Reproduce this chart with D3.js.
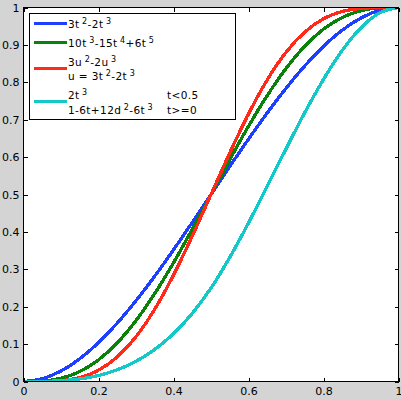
<!DOCTYPE html>
<html>
<head>
<meta charset="utf-8">
<script src="https://cdn.jsdelivr.net/npm/d3@7/dist/d3.min.js"></script>
<style>
  html, body { margin: 0; padding: 0; background: #d4d4d4; }
  svg { display: block; }
  .tick text { font-family: "DejaVu Sans", sans-serif; font-size: 11px; fill: #000; }
  .legend text { font-family: "DejaVu Sans", sans-serif; font-size: 10.5px; letter-spacing: 0.4px; fill: #000; }
</style>
</head>
<body>
<svg id="chart" width="401" height="399"></svg>
<script>
// values
var tVals = [0, 0.05, 0.1, 0.15, 0.2, 0.25, 0.3, 0.35, 0.4, 0.45, 0.5,
             0.55, 0.6, 0.65, 0.7, 0.75, 0.8, 0.85, 0.9, 0.95, 1];
var smoothstep = [0, 0.0073, 0.028, 0.0608, 0.104, 0.1563, 0.216, 0.2818, 0.352, 0.4253, 0.5,
                  0.5748, 0.648, 0.7183, 0.784, 0.8438, 0.896, 0.9393, 0.972, 0.9928, 1];
var smootherstep = [0, 0.0012, 0.0086, 0.0266, 0.0579, 0.1035, 0.1631, 0.2352, 0.3174, 0.4069, 0.5,
                    0.5931, 0.6826, 0.7648, 0.8369, 0.8965, 0.9421, 0.9734, 0.9914, 0.9988, 1];
var nested = [0, 0.0002, 0.0023, 0.0106, 0.0302, 0.0656, 0.1198, 0.1934, 0.2845, 0.3887, 0.5,
              0.6113, 0.7155, 0.8066, 0.8802, 0.9344, 0.9698, 0.9894, 0.9977, 0.9998, 1];
var piecewise = [0, 0.0003, 0.002, 0.0068, 0.016, 0.0313, 0.054, 0.0858, 0.128, 0.1823, 0.25,
                 0.3318, 0.424, 0.5223, 0.622, 0.7188, 0.808, 0.8853, 0.946, 0.9858, 1];

var seriesValues = [smoothstep, smootherstep, nested, piecewise];
var seriesColors = ["#1f3fff", "#0a820a", "#ff2a1a", "#14c8c8"];

// legend labels: [text, superscript?]
var legendLines = [
  [[["3t", 0], ["2", 1], ["-2t", 0], ["3", 1]]],
  [[["10t", 0], ["3", 1], ["-15t", 0], ["4", 1], ["+6t", 0], ["5", 1]]],
  [[["3u", 0], ["2", 1], ["-2u", 0], ["3", 1]],
   [["u = 3t", 0], ["2", 1], ["-2t", 0], ["3", 1]]],
  [[["2t", 0], ["3", 1]],
   [["1-6t+12d", 0], ["2", 1], ["-6t", 0], ["3", 1]]]
];
var legendConds = [null, null, null, ["t<0.5", "t>=0"]];

var xTickVals = [0, 0.2, 0.4, 0.6, 0.8, 1];
var xTickLabels = ["0", "0.2", "0.4", "0.6", "0.8", "1"];
var yTickVals = [0, 0.1, 0.2, 0.3, 0.4, 0.5, 0.6, 0.7, 0.8, 0.9, 1];
var yTickLabels = ["0", "0.1", "0.2", "0.3", "0.4", "0.5", "0.6", "0.7", "0.8", "0.9", "1"];

var svg = d3.select("#chart");

var xScale = d3.scaleLinear().domain([0, 1]).range([23.5, 398.5]);
var yScale = d3.scaleLinear().domain([0, 1]).range([381.5, 7.5]);

// plot area
svg.append("rect")
  .attr("x", xScale(0)).attr("y", yScale(1))
  .attr("width", xScale(1) - xScale(0))
  .attr("height", yScale(0) - yScale(1))
  .attr("fill", "#fff");

svg.append("clipPath").attr("id", "plotclip")
  .append("rect")
  .attr("x", xScale(0)).attr("y", yScale(1))
  .attr("width", xScale(1) - xScale(0))
  .attr("height", yScale(0) - yScale(1));

var line = d3.line()
  .x(function(d, i) { return xScale(tVals[i]); })
  .y(function(d) { return yScale(d); })
  .curve(d3.curveMonotoneX);

svg.append("g")
  .attr("clip-path", "url(#plotclip)")
  .selectAll("path")
  .data(seriesValues)
  .enter()
  .append("path")
  .attr("d", line)
  .attr("fill", "none")
  .attr("stroke", function(d, i) { return seriesColors[i]; })
  .attr("stroke-width", 3.3)
  .attr("shape-rendering", "crispEdges");

// axes, ticks pointing inward
var xAxis = d3.axisBottom(xScale).tickValues(xTickVals)
  .tickFormat(function(d, i) { return xTickLabels[i]; })
  .tickSize(-4).tickPadding(6);
var yAxis = d3.axisLeft(yScale).tickValues(yTickVals)
  .tickFormat(function(d, i) { return yTickLabels[i]; })
  .tickSize(-4).tickPadding(4);

svg.append("g").attr("transform", "translate(0," + yScale(0) + ")").call(xAxis);
svg.append("g").attr("transform", "translate(" + xScale(0) + ",0)").call(yAxis);
svg.append("g").attr("transform", "translate(0," + yScale(1) + ")")
  .call(d3.axisTop(xScale).tickValues(xTickVals).tickFormat("").tickSize(-4));
svg.append("g").attr("transform", "translate(" + xScale(1) + ",0)")
  .call(d3.axisRight(yScale).tickValues(yTickVals).tickFormat("").tickSize(-4));

svg.selectAll(".domain").remove();
svg.selectAll(".tick line").attr("stroke", "#000").attr("shape-rendering", "crispEdges");

svg.append("rect")
  .attr("x", xScale(0)).attr("y", yScale(1))
  .attr("width", xScale(1) - xScale(0))
  .attr("height", yScale(0) - yScale(1))
  .attr("fill", "none")
  .attr("stroke", "#000")
  .attr("shape-rendering", "crispEdges");

// legend
var legend = svg.append("g").attr("class", "legend");
legend.append("rect")
  .attr("x", 29.5).attr("y", 13.5)
  .attr("width", 206).attr("height", 106)
  .attr("fill", "#fff").attr("stroke", "#000")
  .attr("shape-rendering", "crispEdges");

var baseline = 28;
legendLines.forEach(function(rows, i) {
  var first = baseline;
  rows.forEach(function(segs, j) {
    if (j > 0) baseline += 14.3;
    var txt = legend.append("text").attr("x", 68).attr("y", baseline);
    segs.forEach(function(s, k) {
      var ts = txt.append("tspan").text(s[0]);
      if (s[1]) {
        ts.attr("font-size", "8px").attr("dy", -4).attr("dx", 2.5);
      } else if (k > 0) {
        ts.attr("dy", 4);
      }
    });
    if (legendConds[i]) {
      legend.append("text").attr("x", 167).attr("y", baseline).text(legendConds[i][j]);
    }
  });
  var mid = (first + baseline) / 2 - 5;
  legend.append("line")
    .attr("x1", 34).attr("x2", 67)
    .attr("y1", mid).attr("y2", mid)
    .attr("stroke", seriesColors[i])
    .attr("stroke-width", 3)
    .attr("shape-rendering", "crispEdges");
  baseline += 19;
});
</script>
</body>
</html>
